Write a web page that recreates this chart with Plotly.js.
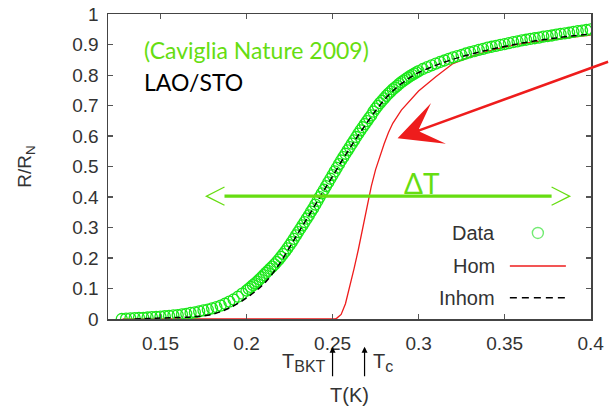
<!DOCTYPE html>
<html>
<head>
<meta charset="utf-8">
<script src="https://cdn.plot.ly/plotly-3.0.1.min.js"></script>
<style>html,body{margin:0;padding:0;background:#fff;}#chart{width:613px;height:410px;}</style>
</head>
<body>
<div id="chart"></div>
<script>
// ---- Data ----
const dataT = [0.1275,0.1300,0.1325,0.1350,0.1375,0.1400,0.1425,0.1450,0.1475,0.1500,0.1525,0.1550,0.1575,0.1600,0.1625,0.1650,0.1675,0.1700,0.1725,0.1750,0.1775,0.1800,0.1825,0.1850,0.1875,0.1900,0.1925,0.1950,0.1975,0.2000,
0.20125,0.2025,0.20375,0.2050,0.20625,0.2075,0.20875,0.2100,0.21125,0.2125,0.21375,0.2150,0.21625,0.2175,0.21875,0.2200,0.22125,0.2225,0.22375,0.2250,0.22625,0.2275,0.22875,0.2300,0.23125,0.2325,0.23375,0.2350,0.23625,0.2375,0.23875,0.2400,0.24125,0.2425,
0.24375,0.2450,0.24625,0.2475,0.24875,0.2500,0.25125,0.2525,0.25375,0.2550,0.25625,0.2575,0.25875,0.2600,0.26125,0.2625,0.26375,0.2650,0.26625,0.2675,0.26875,0.2700,0.27125,0.2725,0.27375,0.2750,0.27625,0.2775,0.27875,0.2800,0.28125,0.2825,0.28375,0.2850,0.28625,0.2875,0.28875,0.2900,0.29125,0.2925,0.29375,0.2950,0.29625,0.2975,0.29875,0.3000,
0.3025,0.3050,0.3075,0.3100,0.3125,0.3150,0.3175,0.3200,0.3225,0.3250,0.3275,0.3300,0.3325,0.3350,0.3375,0.3400,0.3425,0.3450,0.3475,0.3500,0.3525,0.3550,0.3575,0.3600,0.3625,0.3650,0.3675,0.3700,0.3725,0.3750,0.3775,0.3800,0.3825,0.3850,0.3875,0.3900,0.3925,0.3950,0.3975,0.4000];
const dataR = [0.000,0.001,0.002,0.003,0.004,0.004,0.005,0.006,0.007,0.008,0.009,0.010,0.012,0.013,0.015,0.017,0.020,0.022,0.025,0.028,0.031,0.035,0.039,0.044,0.050,0.057,0.064,0.073,0.083,0.093,
0.099,0.105,0.111,0.117,0.123,0.130,0.137,0.144,0.151,0.158,0.165,0.172,0.179,0.187,0.195,0.204,0.213,0.222,0.232,0.242,0.252,0.263,0.274,0.285,0.296,0.307,0.318,0.329,0.340,0.352,0.363,0.375,0.387,0.400,
0.412,0.424,0.436,0.448,0.460,0.472,0.484,0.496,0.508,0.520,0.531,0.542,0.553,0.564,0.575,0.586,0.597,0.608,0.619,0.629,0.639,0.649,0.659,0.668,0.680,0.690,0.699,0.708,0.716,0.724,0.732,0.739,0.746,0.753,0.759,0.765,0.771,0.777,0.782,0.787,0.792,0.797,0.801,0.805,0.809,0.813,
0.820,0.826,0.832,0.838,0.843,0.848,0.853,0.858,0.862,0.866,0.871,0.875,0.879,0.883,0.886,0.890,0.893,0.896,0.899,0.902,0.905,0.908,0.911,0.914,0.916,0.919,0.921,0.923,0.926,0.928,0.930,0.933,0.935,0.937,0.939,0.942,0.944,0.946,0.948,0.950];

const homT = [0.1280,0.2515,0.2525,0.2550,0.2575,0.2600,0.2625,0.2650,0.2675,0.2700,0.2725,0.2750,0.2775,0.2800,0.2825,0.2850,0.2900,0.2950,0.3000,0.3100,0.3200,0.3300,0.3400,0.3500,0.3600,0.3700,0.3800,0.3900,0.4000];
const homR = [0.000,0.000,0.003,0.015,0.050,0.105,0.165,0.228,0.300,0.360,0.435,0.490,0.535,0.575,0.612,0.642,0.685,0.718,0.748,0.795,0.838,0.860,0.878,0.892,0.903,0.911,0.919,0.925,0.931];

const inhomT = [0.135,0.140,0.145,0.150,0.155,0.160,0.165,0.170,0.175,0.180,0.185,0.190,0.195,0.200,0.205,0.210,0.215,0.220,0.225,0.230,0.235,0.240,0.245,0.250,0.255,0.260,0.265,0.270,0.275,0.280,0.285,0.290,0.295,0.300,0.310,0.320,0.330,0.340,0.350,0.360,0.370,0.380,0.390,0.400];
const inhomR = [0.000,0.001,0.002,0.003,0.004,0.005,0.006,0.008,0.010,0.015,0.024,0.036,0.051,0.069,0.090,0.115,0.148,0.188,0.235,0.282,0.328,0.375,0.422,0.468,0.515,0.560,0.603,0.644,0.683,0.718,0.748,0.772,0.792,0.808,0.832,0.852,0.868,0.882,0.894,0.905,0.914,0.922,0.929,0.935];

const seriesNames = ['Data','Hom','Inhom'];
const T_BKT = 0.25, T_C = 0.2686;
const deltaT = [0.1767, 0.3878], deltaTLevel = 0.403;

// ---- Styling ----
const GREEN_MARK = 'rgb(25,232,25)';
const GREEN_TXT = '#66dd11';
const RED = '#ee1c1c';
const TXT = '#333333';
const FAM = 'Liberation Sans, Arial, sans-serif';
const tickFont = {family:FAM, size:19, color:TXT};
const labFont = {family:FAM, size:20, color:TXT};

const traces = [
  {x:homT, y:homR, mode:'lines', name:seriesNames[1], line:{color:RED, width:1.3}, showlegend:false},
  {x:dataT, y:dataR, mode:'markers', name:seriesNames[0], marker:{symbol:'circle-open', size:11, color:GREEN_MARK, line:{width:1.3, color:GREEN_MARK}}, showlegend:false},
  {x:inhomT, y:inhomR, mode:'lines', name:seriesNames[2], line:{color:'#000', width:1.5, dash:'6px,4px', shape:'spline'}, showlegend:false}
];

// legend built manually (symbols to the right of the text)
const legX = 0.805, legSymX0 = 0.832, legSymX1 = 0.948, legSymXc = 0.890;
const legY = [0.282, 0.174, 0.070];

const annotations = [
  {xref:'paper', yref:'paper', x:0.070, y:0.882, xanchor:'left', yanchor:'middle', showarrow:false,
   text:'(Caviglia Nature 2009)', font:{family:'Lato, sans-serif', size:23, color:GREEN_TXT}},
  {xref:'paper', yref:'paper', x:0.070, y:0.777, xanchor:'left', yanchor:'middle', showarrow:false,
   text:'LAO/STO', font:{family:'Lato, sans-serif', size:23, color:'#000'}},
  {xref:'x', yref:'y', x:0.3017, y:0.446, xanchor:'center', yanchor:'middle', showarrow:false,
   text:'ΔT', font:{family:'Lato, sans-serif', size:28, color:GREEN_TXT}},
  // red arrow
  {xref:'x', yref:'y', x:0.2878, y:0.593, ax:212, ay:-77, text:'', showarrow:true,
   arrowhead:3, arrowsize:2.9, arrowwidth:2.5, arrowcolor:RED, standoff:0},
  // T_BKT / Tc markers below axis
  {xref:'x', yref:'paper', x:T_BKT, y:-0.091, ax:0, ay:31, text:'', showarrow:true,
   arrowhead:2, arrowsize:1, arrowwidth:1.2, arrowcolor:'#000', standoff:0},
  {xref:'x', yref:'paper', x:T_C, y:-0.091, ax:0, ay:31, text:'', showarrow:true,
   arrowhead:2, arrowsize:1, arrowwidth:1.2, arrowcolor:'#000', standoff:0},
  {xref:'x', yref:'paper', x:T_BKT, y:-0.141, xshift:-5, xanchor:'right', yanchor:'middle', showarrow:false,
   text:'T<sub><span style="font-size:16px">BKT</span></sub>', font:labFont},
  {xref:'x', yref:'paper', x:T_C, y:-0.141, xshift:6, xanchor:'left', yanchor:'middle', showarrow:false,
   text:'T<sub><span style="font-size:16px">c</span></sub>', font:labFont},
  // legend texts
  {xref:'paper', yref:'paper', x:legX, y:legY[0], xanchor:'right', yanchor:'middle', showarrow:false, text:seriesNames[0], font:labFont},
  {xref:'paper', yref:'paper', x:legX, y:legY[1], xanchor:'right', yanchor:'middle', showarrow:false, text:seriesNames[1], font:labFont},
  {xref:'paper', yref:'paper', x:legX, y:legY[2], xanchor:'right', yanchor:'middle', showarrow:false, text:seriesNames[2], font:labFont}
];

const dxV = 0.0105, dyV = 0.03;
const shapes = [
  // ΔT double arrow
  {type:'line', xref:'x', yref:'y', x0:deltaT[0]+dxV, x1:deltaT[1]-dxV, y0:deltaTLevel, y1:deltaTLevel, line:{color:GREEN_TXT, width:3.3}},
  {type:'path', xref:'x', yref:'y', path:`M${deltaT[0]+dxV},${deltaTLevel+dyV} L${deltaT[0]},${deltaTLevel} L${deltaT[0]+dxV},${deltaTLevel-dyV}`, line:{color:GREEN_TXT, width:1.3}},
  {type:'path', xref:'x', yref:'y', path:`M${deltaT[1]-dxV},${deltaTLevel+dyV} L${deltaT[1]},${deltaTLevel} L${deltaT[1]-dxV},${deltaTLevel-dyV}`, line:{color:GREEN_TXT, width:1.3}},
  // legend symbols
  {type:'circle', xref:'paper', yref:'paper', xsizemode:'pixel', ysizemode:'pixel', xanchor:legSymXc, yanchor:legY[0], x0:-5.5, x1:5.5, y0:-5.5, y1:5.5, line:{color:'rgb(115,235,115)', width:1.4}},
  {type:'line', xref:'paper', yref:'paper', x0:legSymX0, x1:legSymX1, y0:legY[1], y1:legY[1], line:{color:RED, width:1.5}},
  {type:'line', xref:'paper', yref:'paper', x0:legSymX0, x1:legSymX1, y0:legY[2], y1:legY[2], line:{color:'#000', width:1.5, dash:'7px,5px'}}
];

const axisCommon = {
  showline:true, linecolor:'#444', linewidth:1.5, mirror:'ticks', ticks:'inside', ticklen:5, tickwidth:1.2, tickcolor:'#555',
  showgrid:false, zeroline:false, tickfont:tickFont
};

const layout = {
  width:613, height:410,
  margin:{l:108, r:22, t:14, b:91, pad:0},
  paper_bgcolor:'#fff', plot_bgcolor:'#fff',
  showlegend:false,
  xaxis:Object.assign({}, axisCommon, {range:[0.1195,0.4002], tick0:0.15, dtick:0.05, ticklabelstandoff:7,
    title:{text:'T(K)', font:labFont, standoff:34}}),
  yaxis:Object.assign({}, axisCommon, {range:[0,1.0005], tick0:0, dtick:0.1, ticklabelstandoff:4,
    title:{text:'R/R<sub>N</sub>', font:tickFont, standoff:35}}),
  annotations:annotations,
  shapes:shapes
};

Plotly.newPlot('chart', traces, layout, {staticPlot:true, displayModeBar:false});
</script>
</body>
</html>
